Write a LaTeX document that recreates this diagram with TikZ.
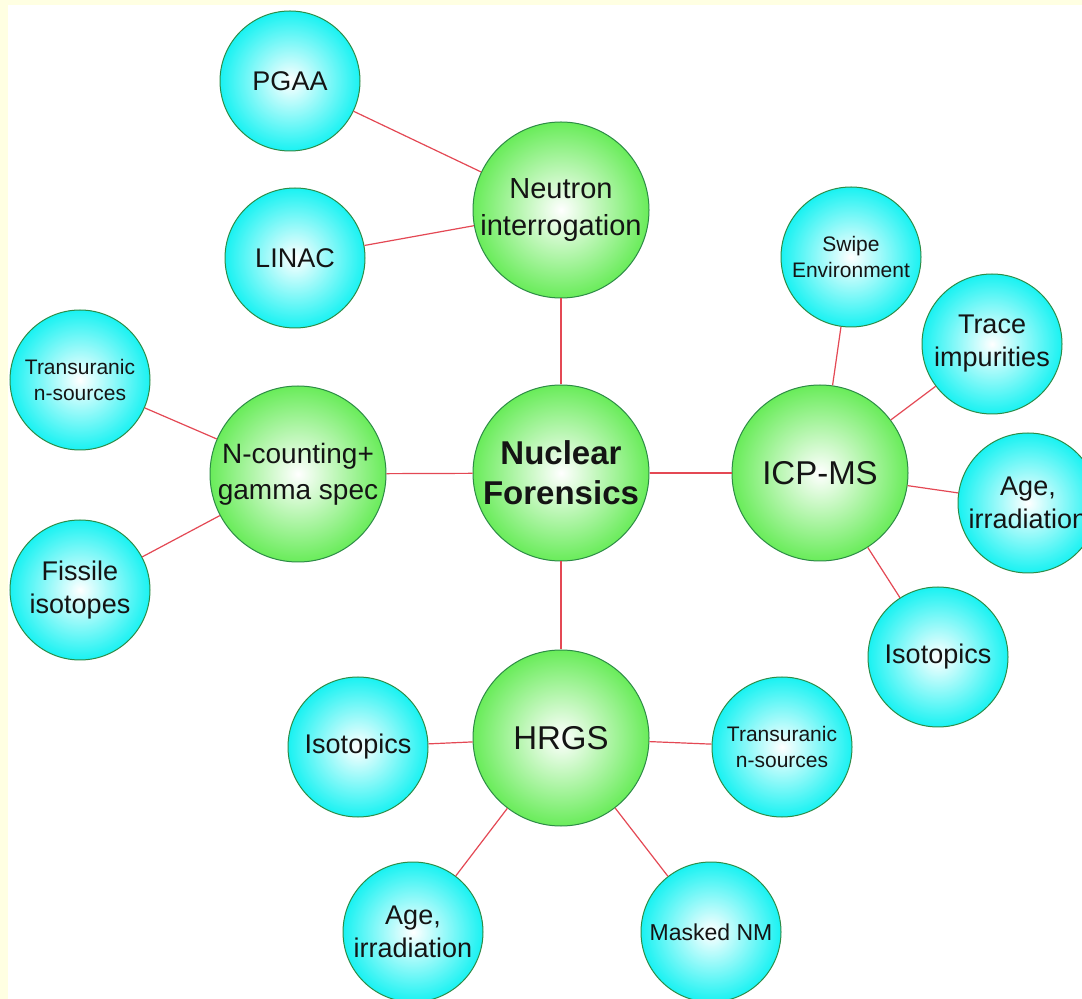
\documentclass[tikz,border=0pt]{standalone}
\usepackage{fontspec}
\setmainfont{Liberation Sans}
\definecolor{BallCyan}{RGB}{25,242,242}
\definecolor{BallGreen}{RGB}{105,236,90}
\definecolor{RimGreen}{RGB}{45,140,70}
\definecolor{LinkRed}{RGB}{228,72,84}
\definecolor{PageYellow}{RGB}{255,255,226}
\tikzset{
  ball/.style={circle,draw=RimGreen,line width=0.5pt,inner sep=-5pt,align=center,text=black!92},
  hub/.style={ball,minimum size=88pt,inner color=white,outer color=BallGreen},
  leaf/.style={ball,minimum size=70pt,inner color=white,outer color=BallCyan},
  link/.style={LinkRed,line width=0.6pt}
}
\newcommand{\fsz}[2]{\fontsize{#1}{#2}\selectfont}

\begin{document}
\begin{tikzpicture}[x=0.5pt,y=-0.5pt]
  \useasboundingbox (0,0) rectangle (1082,999);
  \fill[PageYellow] (0,0) rectangle (1082,999);
  \fill[white] (8,5) rectangle (1082,999);
  \clip (0,0) rectangle (1082,999);
  % hubs
  \node[hub,font=\fsz{16.5}{20}\bfseries] (nf) at (561,473) {Nuclear\\Forensics};
  \node[hub,font=\fsz{14.5}{18.5}] (neut) at (561,210) {Neutron\\interrogation};
  \node[hub,font=\fsz{14}{18}] (ncnt) at (298,474) {N-counting+\\gamma spec};
  \node[hub,font=\fsz{16.5}{20}] (icp) at (820,473) {ICP-MS};
  \node[hub,font=\fsz{16.5}{20}] (hrgs) at (561,738) {HRGS};
  % leaves
  \node[leaf,font=\fsz{13.5}{16.5}] (pgaa) at (290,81) {PGAA};
  \node[leaf,font=\fsz{13.5}{16.5}] (linac) at (295,258) {LINAC};
  \node[leaf,font=\fsz{10.5}{13}] (trnl) at (80,380) {Transuranic\\n-sources};
  \node[leaf,font=\fsz{13.5}{16.5}] (fiss) at (80,590) {Fissile\\isotopes};
  \node[leaf,font=\fsz{10.5}{13}] (swipe) at (851,257) {Swipe\\Environment};
  \node[leaf,font=\fsz{13.5}{16.5}] (trace) at (992,344) {Trace\\impurities};
  \node[leaf,font=\fsz{13.5}{16.5}] (ager) at (1028,503) {Age,\\irradiation};
  \node[leaf,font=\fsz{13.5}{16.5}] (isor) at (938,657) {Isotopics};
  \node[leaf,font=\fsz{13.5}{16.5}] (isol) at (358,747) {Isotopics};
  \node[leaf,font=\fsz{10.5}{13}] (trnb) at (782,747) {Transuranic\\n-sources};
  \node[leaf,font=\fsz{13.5}{16.5}] (ageb) at (413,932) {Age,\\irradiation};
  \node[leaf,font=\fsz{11.5}{14}] (mask) at (711,932) {Masked NM};
  % links
  \foreach \a/\b in {nf/neut,nf/ncnt,nf/icp,nf/hrgs,neut/pgaa,neut/linac,
      ncnt/trnl,ncnt/fiss,icp/swipe,icp/trace,icp/ager,icp/isor,
      hrgs/isol,hrgs/trnb,hrgs/ageb,hrgs/mask}
    \draw[link] (\a) -- (\b);
\end{tikzpicture}
\end{document}
